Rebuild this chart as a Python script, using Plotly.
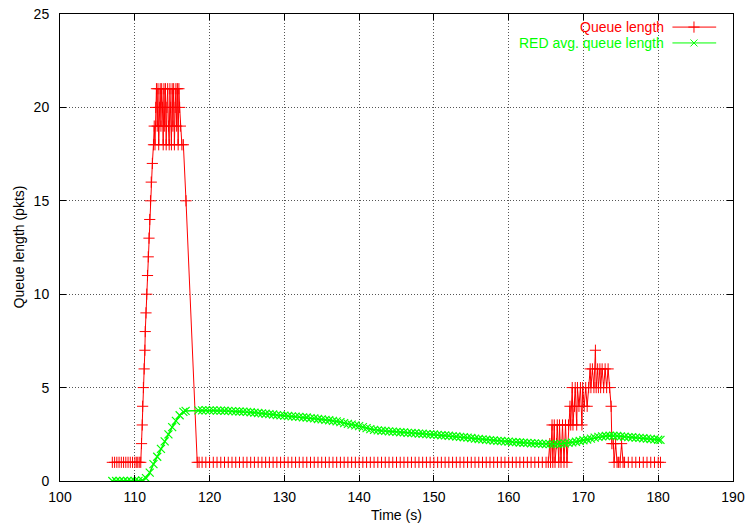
"""Queue length vs RED average queue length (gnuplot-style reproduction)"""

import plotly.graph_objects as go

# ---- instantaneous queue length (pkts) ----
red_start_t = [107.0, 107.3, 107.6, 107.9, 108.2, 108.5, 108.8, 109.1, 109.4, 109.7,
               110.0, 110.2, 110.4, 110.6, 110.8]
red_start_q = [1, 1, 1, 1, 1, 1, 1, 1, 1, 1,
               1, 1, 1, 1, 1]

red_rise_t = [110.9, 111.0, 111.05, 111.15, 111.25, 111.35, 111.4, 111.5, 111.6, 111.7,
              111.8, 111.9, 112.0, 112.1, 112.2, 112.35, 112.5]
red_rise_q = [2, 3, 4, 5, 6, 7, 8, 9, 10, 11,
              12, 13, 14, 15, 16, 17, 18]

red_peak_t = [112.6, 112.7, 112.8, 112.9, 113.0, 113.1, 113.2, 113.3, 113.4, 113.5,
              113.6, 113.7, 113.8, 113.9, 114.0, 114.1, 114.2, 114.3, 114.4, 114.5,
              114.6, 114.7, 114.8, 114.9, 115.0, 115.1, 115.2, 115.3, 115.4, 115.5,
              115.6, 115.7, 115.8, 115.9, 116.0, 116.1, 116.3, 116.5, 116.85, 118.35]
red_peak_q = [19, 18, 20, 21, 19, 21, 18, 20, 21, 19,
              21, 20, 18, 21, 19, 21, 18, 20, 21, 19,
              18, 21, 20, 18, 21, 19, 21, 18, 20, 21,
              19, 21, 18, 21, 20, 19, 18, 18, 15, 1]

red_flat_t = [118.6, 119.0, 119.5, 120.0, 120.5, 121.0, 121.5, 122.0, 122.5, 123.0,
              123.5, 124.0, 124.5, 125.0, 125.5, 126.0, 126.5, 127.0, 127.5, 128.0,
              128.5, 129.0, 129.5, 130.0, 130.5, 131.0, 131.5, 132.0, 132.5, 133.0,
              133.5, 134.0, 134.5, 135.0, 135.5, 136.0, 136.5, 137.0, 137.5, 138.0,
              138.5, 139.0, 139.5, 140.0, 140.5, 141.0, 141.5, 142.0, 142.5, 143.0,
              143.5, 144.0, 144.5, 145.0, 145.5, 146.0, 146.5, 147.0, 147.5, 148.0,
              148.5, 149.0, 149.5, 150.0, 150.5, 151.0, 151.5, 152.0, 152.5, 153.0,
              153.5, 154.0, 154.5, 155.0, 155.5, 156.0, 156.5, 157.0, 157.5, 158.0,
              158.5, 159.0, 159.5, 160.0, 160.5, 161.0, 161.5, 162.0, 162.5, 163.0,
              163.5, 164.0, 164.5, 165.0]
red_flat_q = [1, 1, 1, 1, 1, 1, 1, 1, 1, 1,
              1, 1, 1, 1, 1, 1, 1, 1, 1, 1,
              1, 1, 1, 1, 1, 1, 1, 1, 1, 1,
              1, 1, 1, 1, 1, 1, 1, 1, 1, 1,
              1, 1, 1, 1, 1, 1, 1, 1, 1, 1,
              1, 1, 1, 1, 1, 1, 1, 1, 1, 1,
              1, 1, 1, 1, 1, 1, 1, 1, 1, 1,
              1, 1, 1, 1, 1, 1, 1, 1, 1, 1,
              1, 1, 1, 1, 1, 1, 1, 1, 1, 1,
              1, 1, 1, 1]

red_tail_t = [165.3, 165.5, 165.6, 165.8, 165.9, 166.1, 166.2, 166.4, 166.5, 166.7,
              166.8, 167.0, 167.2, 167.4, 167.6, 167.8, 168.0, 168.2, 168.3, 168.5,
              168.6, 168.8, 168.9, 169.1, 169.2, 169.4, 169.6, 169.8, 169.9, 170.1,
              170.3, 170.5, 170.7, 170.9, 171.0, 171.2, 171.4, 171.6, 171.7, 171.9,
              172.0, 172.2, 172.3, 172.5, 172.7, 172.9, 173.1, 173.3, 173.5, 173.7,
              173.8, 174.0, 174.1, 174.3, 174.5, 174.7, 174.9, 175.1, 175.3, 175.5,
              176.0, 176.5, 177.0, 177.5, 178.0, 178.5, 179.0, 179.5, 180.0, 180.3]
red_tail_q = [1, 2, 1, 3, 1, 3, 1, 2, 3, 1,
              3, 1, 3, 1, 3, 1, 3, 4, 3, 5,
              3, 4, 5, 3, 5, 4, 5, 3, 5, 4,
              5, 4, 5, 6, 5, 6, 5, 7, 5, 6,
              5, 6, 5, 6, 5, 6, 5, 6, 5, 4,
              2, 2, 1, 2, 1, 1, 1, 2, 1, 1,
              1, 1, 1, 1, 1, 1, 1, 1, 1, 1]

# ---- RED average queue length (pkts) ----
avg_rise_t = [107.0, 107.5, 108.0, 108.5, 109.0, 109.5, 110.0, 110.5, 111.0, 111.5,
              112.0, 112.5, 113.0, 113.5, 114.0, 114.5, 115.0, 115.5, 116.0, 116.5,
              116.8]
avg_rise_q = [0.0, 0.0, 0.0, 0.0, 0.0, 0.0, 0.0, 0.01, 0.03, 0.15,
              0.45, 0.9, 1.3, 1.72, 2.12, 2.5, 2.88, 3.22, 3.52, 3.7,
              3.75]

avg_decay_t = [118.5, 119.0, 119.5, 120.0, 120.5, 121.0, 121.5, 122.0, 122.5, 123.0,
               123.5, 124.0, 124.5, 125.0, 125.5, 126.0, 126.5, 127.0, 127.5, 128.0,
               128.5, 129.0, 129.5, 130.0, 130.5, 131.0, 131.5, 132.0, 132.5, 133.0,
               133.5, 134.0, 134.5, 135.0, 135.5, 136.0, 136.5, 137.0, 137.5, 138.0,
               138.5, 139.0, 139.5, 140.0, 140.5, 141.0, 141.5, 142.0, 142.5, 143.0,
               143.5, 144.0, 144.5, 145.0, 145.5, 146.0, 146.5, 147.0, 147.5, 148.0,
               148.5, 149.0, 149.5, 150.0, 150.5, 151.0, 151.5, 152.0, 152.5, 153.0,
               153.5, 154.0, 154.5, 155.0, 155.5, 156.0, 156.5, 157.0, 157.5, 158.0,
               158.5, 159.0, 159.5, 160.0, 160.5, 161.0, 161.5, 162.0, 162.5, 163.0,
               163.5, 164.0, 164.5, 165.0, 165.5, 166.0, 166.5, 167.0, 167.5, 168.0,
               168.5, 169.0, 169.5, 170.0, 170.5, 171.0, 171.5, 172.0, 172.5, 173.0,
               173.5, 174.0, 174.5, 175.0, 175.5, 176.0, 176.5, 177.0, 177.5, 178.0,
               178.5, 179.0, 179.5, 180.0, 180.3]
avg_decay_q = [3.78, 3.78, 3.79, 3.78, 3.78, 3.77, 3.77, 3.76, 3.75, 3.74,
               3.73, 3.72, 3.71, 3.70, 3.68, 3.66, 3.64, 3.62, 3.60, 3.58,
               3.56, 3.53, 3.51, 3.50, 3.48, 3.46, 3.45, 3.43, 3.41, 3.40,
               3.37, 3.35, 3.32, 3.30, 3.27, 3.25, 3.22, 3.19, 3.15, 3.10,
               3.06, 3.02, 2.98, 2.94, 2.88, 2.83, 2.78, 2.74, 2.71, 2.69,
               2.68, 2.66, 2.64, 2.63, 2.61, 2.60, 2.58, 2.57, 2.56, 2.54,
               2.53, 2.51, 2.50, 2.49, 2.47, 2.45, 2.44, 2.42, 2.40, 2.38,
               2.36, 2.34, 2.32, 2.30, 2.27, 2.25, 2.23, 2.21, 2.19, 2.17,
               2.15, 2.14, 2.12, 2.11, 2.09, 2.08, 2.06, 2.05, 2.04, 2.02,
               2.01, 2.00, 1.99, 1.98, 1.97, 1.97, 1.98, 1.99, 2.01, 2.04,
               2.07, 2.10, 2.14, 2.18, 2.22, 2.27, 2.32, 2.36, 2.39, 2.41,
               2.42, 2.42, 2.41, 2.39, 2.37, 2.35, 2.34, 2.32, 2.31, 2.29,
               2.27, 2.25, 2.23, 2.21, 2.20]

x_ticks = [100, 110, 120, 130, 140, 150, 160, 170, 180, 190]
y_ticks = [0, 5, 10, 15, 20, 25]

RED = "#ff0000"
GREEN = "#00ff00"
FONT = "Liberation Sans, Arial, sans-serif"
FS = 14

red_t = red_start_t + red_rise_t + red_peak_t + red_flat_t + red_tail_t
red_q = red_start_q + red_rise_q + red_peak_q + red_flat_q + red_tail_q
avg_t = avg_rise_t + avg_decay_t
avg_q = avg_rise_q + avg_decay_q

fig = go.Figure()
fig.add_trace(go.Scatter(
    x=red_t, y=red_q, mode="lines+markers", name="Queue length",
    line=dict(color=RED, width=1),
    marker=dict(symbol="cross-thin", size=8, line=dict(color=RED, width=1)),
))
fig.add_trace(go.Scatter(
    x=avg_t, y=avg_q, mode="lines+markers", name="RED avg. queue length",
    line=dict(color=GREEN, width=1.5),
    marker=dict(symbol="x-thin", size=8, line=dict(color=GREEN, width=1.2)),
))

# gnuplot-style key: text on the left, sample on the right
key_rows = [("Queue length", RED, "cross-thin", 8, 0.972),
            ("RED avg. queue length", GREEN, "x-thin", 7, 0.938)]
for label, color, sym, size, ky in key_rows:
    fig.add_trace(go.Scatter(
        x=[0.91, 0.975], y=[ky, ky], xaxis="x2", yaxis="y2", mode="lines",
        line=dict(color=color, width=1), showlegend=False, hoverinfo="skip",
    ))
    fig.add_trace(go.Scatter(
        x=[0.942], y=[ky], xaxis="x2", yaxis="y2", mode="markers",
        marker=dict(symbol=sym, size=size, line=dict(color=color, width=1)),
        showlegend=False, hoverinfo="skip",
    ))
    fig.add_annotation(text=label, x=0.9, y=ky, xref="x2", yref="y2",
                       xanchor="right", yanchor="middle", showarrow=False,
                       font=dict(color=color, size=FS, family=FONT))

# axis titles placed like gnuplot does
fig.add_annotation(text="Time (s)", x=0.5, y=-0.073, xref="paper", yref="paper",
                   xanchor="center", yanchor="middle", showarrow=False,
                   font=dict(size=FS, family=FONT, color="black"))
fig.add_annotation(text="Queue length (pkts)", x=-0.0624, y=0.5, xref="paper",
                   yref="paper", xanchor="center", yanchor="middle", textangle=-90,
                   showarrow=False, font=dict(size=FS, family=FONT, color="black"))

axis_common = dict(
    showline=True, linecolor="black", linewidth=1, mirror="ticks",
    ticks="inside", ticklen=6, tickcolor="black", automargin=False,
    showgrid=True, gridcolor="#555555", griddash="1px,2px", gridwidth=1,
    zeroline=False, tickfont=dict(size=FS, color="black", family=FONT),
)

fig.update_layout(
    width=745, height=525,
    paper_bgcolor="white", plot_bgcolor="white",
    margin=dict(l=60, r=12, t=14, b=44),
    showlegend=False,
    font=dict(family=FONT, size=FS, color="black"),
    xaxis=dict(range=[100, 190], tickvals=x_ticks, ticklabelstandoff=3, **axis_common),
    yaxis=dict(range=[0, 25], tickvals=y_ticks, ticklabelstandoff=7, **axis_common),
    xaxis2=dict(overlaying="x", range=[0, 1], visible=False, anchor="y2"),
    yaxis2=dict(overlaying="y", range=[0, 1], visible=False, anchor="x2"),
)

# the page's default body margin would shift the 745x525 figure off the window
fig.write_html("out.html", config={"displayModeBar": False},
               post_script="document.body.style.margin = '0';")
